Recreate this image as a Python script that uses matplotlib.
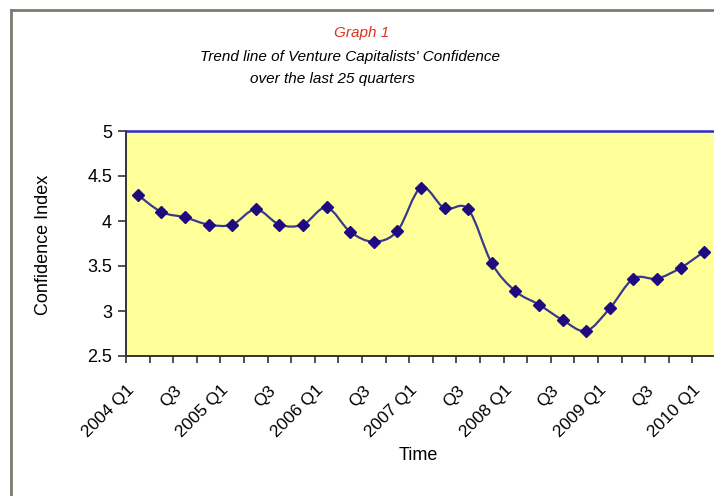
import numpy as np
import matplotlib
matplotlib.use("Agg")
import matplotlib.pyplot as plt
from matplotlib.path import Path
from matplotlib.patches import PathPatch
from matplotlib.ticker import FixedLocator, FuncFormatter
from matplotlib.transforms import ScaledTranslation

plt.rcParams["font.family"] = ["Liberation Sans", "DejaVu Sans"]

# --- data ---
quarters = ["2004 Q1", "Q2", "Q3", "Q4", "2005 Q1", "Q2", "Q3", "Q4",
            "2006 Q1", "Q2", "Q3", "Q4", "2007 Q1", "Q2", "Q3", "Q4",
            "2008 Q1", "Q2", "Q3", "Q4", "2009 Q1", "Q2", "Q3", "Q4",
            "2010 Q1"]
confidence = [4.29, 4.10, 4.04, 3.96, 3.96, 4.13, 3.96, 3.96,
              4.15, 3.88, 3.77, 3.89, 4.37, 4.14, 4.13, 3.53,
              3.22, 3.07, 2.90, 2.78, 3.03, 3.36, 3.36, 3.48,
              3.66]
y_ticks = [2.5, 3, 3.5, 4, 4.5, 5]

fig = plt.figure(figsize=(7.14, 4.96), dpi=100)

# outer frame of the sheet (only top and left visible in the crop)
fig.add_artist(plt.Line2D([11.5 / 714, 11.5 / 714], [0, 1 - 9.5 / 496],
                          transform=fig.transFigure, color="#7f7a6e", lw=2))
fig.add_artist(plt.Line2D([11.5 / 714, 1], [1 - 9.5 / 496, 1 - 9.5 / 496],
                          transform=fig.transFigure, color="#7f7a6e", lw=2))

ax = fig.add_axes([126 / 714, 140 / 496, 590 / 714, 225 / 496])
ax.set_facecolor("#ffff99")

x = np.arange(len(confidence))
y = np.array(confidence)

# Excel-style smoothed line through the points (cubic Bezier segments)
verts = [(x[0], y[0])]
codes = [Path.MOVETO]
n = len(x)
for i in range(n - 1):
    p0 = np.array([x[max(i - 1, 0)], y[max(i - 1, 0)]])
    p1 = np.array([x[i], y[i]])
    p2 = np.array([x[i + 1], y[i + 1]])
    p3 = np.array([x[min(i + 2, n - 1)], y[min(i + 2, n - 1)]])
    c1 = p1 + (p2 - p0) / 6
    c2 = p2 - (p3 - p1) / 6
    verts += [tuple(c1), tuple(c2), tuple(p2)]
    codes += [Path.CURVE4] * 3
ax.add_patch(PathPatch(Path(verts, codes), facecolor="none",
                       edgecolor="#3a3a8c", lw=1.6, zorder=3))
ax.plot(x, y, linestyle="none", marker="D", markersize=6.5,
        color="#1f0a80", zorder=4)

ax.set_xlim(-0.5, len(confidence) - 0.5)
ax.set_ylim(2.5, 5)

ax.yaxis.set_major_locator(FixedLocator(y_ticks))
ax.yaxis.set_major_formatter(FuncFormatter(lambda v, p: f"{v:g}"))
ax.tick_params(axis="y", direction="out", length=6, width=1.2,
               color="#333333", labelsize=13, pad=4)

# labels every other quarter, ticks on category boundaries
ax.set_xticks(x[::2])
ax.set_xticklabels(quarters[::2], rotation=45, ha="right", va="center",
                   rotation_mode="anchor", fontsize=12.5)
ax.tick_params(axis="x", which="major", length=0, pad=23)
shift = ScaledTranslation(-6 / 100, 0, fig.dpi_scale_trans)
for lab in ax.get_xticklabels():
    lab.set_transform(lab.get_transform() + shift)
ax.set_xticks(np.arange(len(confidence) + 1) - 0.5, minor=True)
ax.tick_params(axis="x", which="minor", direction="out", length=5,
               width=1.2, color="#333333")

for side in ["left", "bottom"]:
    ax.spines[side].set_color("#333333")
    ax.spines[side].set_linewidth(1.4)
ax.spines["top"].set_color("#2c2ccf")
ax.spines["top"].set_linewidth(1.8)
ax.spines["right"].set_visible(False)

fig.text(43 / 714, 1 - 245 / 496, "Confidence Index", rotation=90,
         ha="center", va="center", fontsize=13)
fig.text(418 / 714, 1 - 456 / 496, "Time", ha="center", va="center",
         fontsize=13)

fig.text(362 / 714, 1 - 33 / 496, "Graph 1", ha="center", va="center",
         fontsize=11, style="italic", color="#e0321e")
fig.text(350 / 714, 1 - 57 / 496, "Trend line of Venture Capitalists' Confidence",
         ha="center", va="center", fontsize=11, style="italic")
fig.text(332 / 714, 1 - 79 / 496, "over the last 25 quarters",
         ha="center", va="center", fontsize=11, style="italic")

fig.savefig("out.png", dpi=100)
